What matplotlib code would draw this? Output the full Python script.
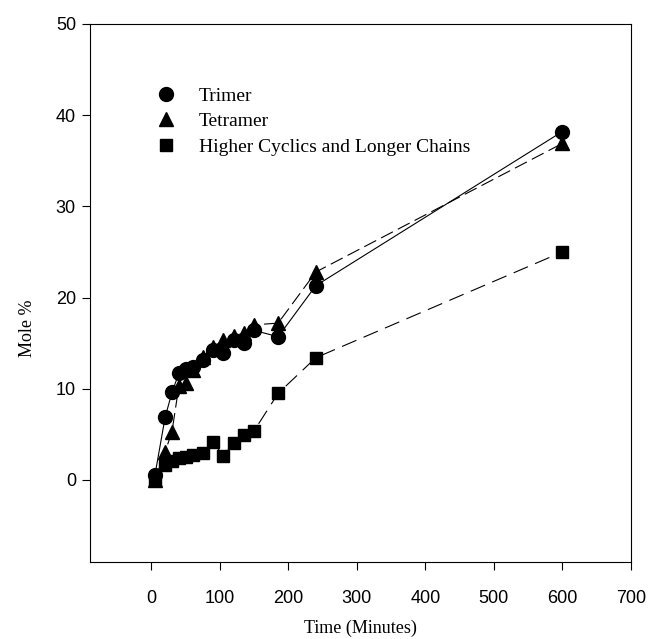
import matplotlib
matplotlib.use("Agg")
import matplotlib.pyplot as plt
from matplotlib.lines import Line2D

times = [5, 20, 30, 40, 50, 60, 75, 90, 105, 120, 135, 150, 185, 240, 600]
trimer = [0.5, 6.9, 9.6, 11.7, 12.2, 12.4, 13.2, 14.3, 13.9, 15.3, 15.0, 16.4, 15.7, 21.3, 38.2]
tetramer = [0.0, 3.1, 5.3, 10.3, 10.6, 12.0, 13.5, 14.6, 15.3, 15.8, 16.1, 17.0, 17.2, 22.8, 36.9]
higher = [0.0, 1.6, 2.1, 2.4, 2.5, 2.7, 3.0, 4.2, 2.6, 4.1, 4.9, 5.4, 9.5, 13.4, 25.0]
labels = ["Trimer", "Tetramer", "Higher Cyclics and Longer Chains"]
xticks = [0, 100, 200, 300, 400, 500, 600, 700]
yticks = [0, 10, 20, 30, 40, 50]

serif = "Liberation Serif"
sans = "Liberation Sans"

fig = plt.figure(figsize=(6.51, 6.39), dpi=100)
ax = fig.add_axes([0.138, 0.1205, 0.831, 0.842])

ax.plot(times, trimer, color="black", lw=0.8, ls="-", marker="o", ms=10, zorder=3)
ax.plot(times, tetramer, color="black", lw=0.8, ls=(0, (12, 5)), marker="^", ms=10, zorder=3)
ax.plot(times, higher, color="black", lw=0.8, ls=(0, (14, 7)), marker="s", ms=9, zorder=3)

ax.set_xlim(-90, 700)
ax.set_ylim(-9, 50)
ax.set_xticks(xticks)
ax.set_yticks(yticks)
ax.tick_params(axis="x", direction="out", length=6, width=0.8, pad=14, labelsize=13)
ax.tick_params(axis="y", direction="out", length=6, width=0.8, pad=4, labelsize=13)
for lab in ax.get_xticklabels() + ax.get_yticklabels():
    lab.set_fontfamily(sans)
for sp in ax.spines.values():
    sp.set_linewidth(0.8)

ax.set_xlabel("Time (Minutes)", fontfamily=serif, fontsize=13, labelpad=9)
ax.set_ylabel("Mole %", fontfamily=serif, fontsize=13)
ax.yaxis.set_label_coords(-0.1, 0.435)

handles = [
    Line2D([], [], color="black", marker="o", ls="none", ms=10),
    Line2D([], [], color="black", marker="^", ls="none", ms=10),
    Line2D([], [], color="black", marker="s", ls="none", ms=9),
]
ax.legend(handles, labels, loc="upper left", bbox_to_anchor=(0.09, 0.915),
          frameon=False, prop={"family": serif, "size": 14},
          handletextpad=1.2, labelspacing=0.4, handlelength=1.0)

fig.savefig("out.png", dpi=100)
